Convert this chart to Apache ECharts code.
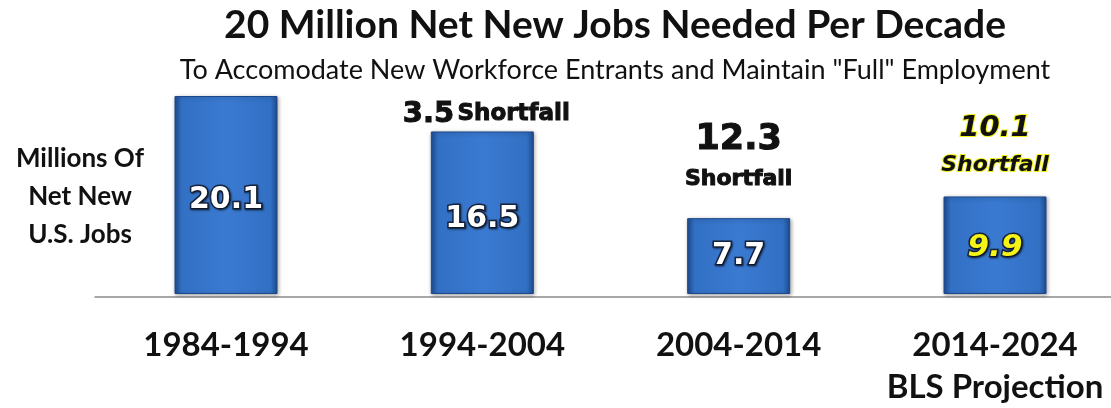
<!DOCTYPE html>
<html>
<head>
<meta charset="utf-8">
<script src="https://cdn.jsdelivr.net/npm/echarts@6/dist/echarts.min.js"></script>
<style>
  html, body { margin: 0; padding: 0; background: #ffffff; }
  #chart { width: 1111px; height: 408px; }
</style>
</head>
<body>
<div id="chart"></div>
<script>
// Decades and net new jobs (millions)
const decades = ['1984-1994', '1994-2004', '2004-2014', '2014-2024\nBLS Projection'];
const netNewJobs = [20.1, 16.5, 7.7, 9.9];
// Shortfall against the 20 million per decade target
const shortfall = [null, 3.5, 12.3, 10.1];
const yAxisNote = 'Millions Of\nNet New\nU.S. Jobs';
const titleText = '20 Million Net New Jobs Needed Per Decade';
const subtitleText = 'To Accomodate New Workforce Entrants and Maintain "Full" Employment';

const chart = echarts.init(document.getElementById('chart'));

const barFill = new echarts.graphic.LinearGradient(0, 0, 1, 0, [
  { offset: 0, color: '#1e4d92' },
  { offset: 0.07, color: '#3270c4' },
  { offset: 0.5, color: '#3a7ad1' },
  { offset: 0.93, color: '#3270c4' },
  { offset: 1, color: '#1e4d92' }
]);

const labelFont = 'DejaVu Sans';
const valueLabelOffsets = [[0, 5], [0, 6], [0, 0], [0, 3]];

// Heavy black text used for the shortfall notes
const heavy = (size, extra) => Object.assign({
  fontFamily: labelFont, fontWeight: 'bold', fontSize: size, color: '#111',
  textBorderColor: '#111', textBorderWidth: 1
}, extra || {});

chart.setOption({
  animation: false,
  graphic: [
    {
      type: 'text', x: 615, y: 25,
      style: {
        text: titleText, fontFamily: 'Lato', fontWeight: 'bold', fontSize: 39,
        fill: '#111111', align: 'center', verticalAlign: 'middle'
      }
    },
    {
      type: 'text', x: 615, y: 70,
      style: {
        text: subtitleText, fontFamily: 'Lato', fontSize: 27,
        fill: '#111111', align: 'center', verticalAlign: 'middle'
      }
    },
    {
      type: 'text', x: 80, y: 197,
      style: {
        text: yAxisNote, fontFamily: 'Lato', fontWeight: 'bold', fontSize: 26,
        lineHeight: 38, fill: '#111111', align: 'center', verticalAlign: 'middle'
      }
    }
  ],
  grid: [
    // bars sit on the category points
    { left: 226, right: 116, top: 96, height: 201 },
    // full-width baseline
    { left: 95, right: 0, top: 96, height: 201 }
  ],
  xAxis: [
    {
      type: 'category',
      gridIndex: 0,
      data: decades,
      boundaryGap: false,
      axisTick: { show: false },
      axisLine: { show: false },
      axisLabel: {
        interval: 0,
        hideOverlap: false,
        margin: 30,
        fontFamily: 'Lato',
        fontWeight: 'bold',
        fontSize: 33,
        lineHeight: 42,
        color: '#111111'
      }
    },
    {
      type: 'value',
      gridIndex: 1,
      min: 0,
      max: 1,
      axisTick: { show: false },
      axisLabel: { show: false },
      splitLine: { show: false },
      axisLine: { lineStyle: { color: '#8a8a8a', width: 1.5 } }
    }
  ],
  yAxis: [
    { type: 'value', gridIndex: 0, min: 0, max: 20.1, show: false, splitLine: { show: false } },
    { type: 'value', gridIndex: 1, min: 0, max: 1, show: false, splitLine: { show: false } }
  ],
  series: [{
    type: 'bar',
    xAxisIndex: 0,
    yAxisIndex: 0,
    barWidth: 103,
    z: 3,
    data: netNewJobs.map((v, i) => ({
      value: v,
      label: {
        offset: valueLabelOffsets[i],
        color: i === 3 ? '#f4f416' : '#ffffff',
        fontStyle: i === 3 ? 'italic' : 'normal',
        fontSize: i === 3 ? 31 : 30
      }
    })),
    itemStyle: {
      color: barFill,
      borderColor: '#1d4789',
      borderWidth: 1,
      shadowColor: 'rgba(0,0,0,0.35)',
      shadowBlur: 4,
      shadowOffsetX: 1,
      shadowOffsetY: 1
    },
    label: {
      show: true,
      position: 'inside',
      formatter: p => p.value.toFixed(1),
      fontFamily: labelFont,
      fontWeight: 'bold',
      textBorderColor: '#16233f',
      textBorderWidth: 3,
      textShadowColor: 'rgba(0,0,0,0.5)',
      textShadowBlur: 2,
      textShadowOffsetX: 1,
      textShadowOffsetY: 1
    },
    markPoint: {
      symbol: 'rect',
      symbolSize: 1,
      itemStyle: { color: 'rgba(0,0,0,0)' },
      data: [
        {
          coord: [1, netNewJobs[1]],
          label: {
            show: true, offset: [4, -17],
            formatter: '{v|' + shortfall[1].toFixed(1) + '} {s|Shortfall}',
            rich: { v: heavy(29), s: heavy(23) }
          }
        },
        {
          coord: [2, netNewJobs[2]],
          label: {
            show: true, offset: [0, -59],
            formatter: '{v|' + shortfall[2].toFixed(1) + '}\n{s|Shortfall}',
            rich: {
              v: heavy(35, { lineHeight: 40, align: 'center' }),
              s: heavy(22, { lineHeight: 38, align: 'center' })
            }
          }
        },
        {
          coord: [3, netNewJobs[3]],
          label: {
            show: true, offset: [0, -50],
            formatter: '{v|' + shortfall[3].toFixed(1) + '}\n{s|Shortfall}',
            rich: {
              v: heavy(29, { fontStyle: 'italic', textBorderColor: '#f2f21a', textBorderWidth: 2,
                             lineHeight: 38, align: 'center' }),
              s: heavy(22, { fontStyle: 'italic', textBorderColor: '#f2f21a', textBorderWidth: 2,
                             lineHeight: 36, align: 'center' })
            }
          }
        }
      ]
    }
  }]
});
</script>
</body>
</html>
